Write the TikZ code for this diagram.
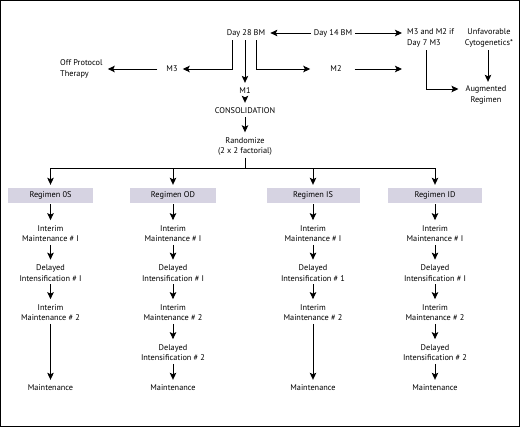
\documentclass[tikz,border=0pt]{standalone}
\usepackage{fontspec}
\setmainfont{PT Sans}
\usetikzlibrary{arrows.meta}

\definecolor{regimenfill}{RGB}{214,211,226}

\tikzset{
    flow/.style = {-{Stealth[length=7pt,width=6.5pt,inset=1.5pt]}, line width=0.9pt, shorten <=1pt, shorten >=3pt},
    lbl/.style = {align=center, font=\fontsize{8.3}{10.3}\selectfont, inner sep=2pt},
    regbox/.style = {lbl, fill=regimenfill, minimum height=15pt}
}

\begin{document}
\begin{tikzpicture}[x=1pt, y=-1pt]
        \useasboundingbox (0,0) rectangle (520,428);
        \draw [line width=1pt] (0.5,0.5) rectangle (519.5,426.5);

        % induction
        \node (dtwentyeight) at (246,33) [lbl] {Day 28 BM};
        \node (dfourteen) at (333,33) [lbl] {Day 14 BM};
        \node (mthreetwo) at (405,38) [lbl, anchor = west, align = left] {M3 and M2 if\\Day 7 M3};
        \node (unfav) at (489,38) [lbl] {Unfavorable\\Cytogenetics*};
        \node (augment) at (486,95) [lbl] {Augmented\\Regimen};
        \node (mthree) at (172,69) [lbl] {M3};
        \node (offprot) at (58,69) [lbl, anchor = west, align = left] {Off Protocol\\Therapy};
        \node (mone) at (245,91) [lbl] {M1};
        \node (mtwo) at (336,69) [lbl] {M2};
        \node (consol) at (245,111) [lbl] {CONSOLIDATION};
        \node (random) at (245,146.5) [lbl] {Randomize\\(2 x 2 factorial)};
        \coordinate (split) at (245,168);

        \draw [flow] (dfourteen.west) -- (dtwentyeight.east);
        \draw [flow] (dfourteen.east) -- (mthreetwo.west |- dfourteen);
        \draw [flow] ([xshift=-14pt]dtwentyeight.south) |- (mthree.east);
        \draw [flow] (dtwentyeight.south -| mone.north) -- (mone.north);
        \draw [flow, shorten >=18pt] ([xshift=10pt]dtwentyeight.south) |- (mtwo.west);
        \draw [flow, shorten <=7pt] (mthree.west) -- (offprot.east |- mthree);
        \draw [flow, shorten <=11pt] (mtwo.east) -- (mthreetwo.west |- mtwo);
        \draw [flow, shorten >=2pt] (unfav.south -| 488,0) -- (augment.north -| 488,0);
        \draw [flow, shorten >=5pt] ([xshift=21pt]mthreetwo.south west) |- ([yshift=6pt]augment.west);
        \draw [flow] (mone) -- (consol);
        \draw [flow] (consol) -- (random);

        % regimens
        \node (regos) at (50.5,195.5) [regbox, minimum width=85pt] {Regimen 0S};
        \node (regod) at (173,195.5) [regbox, minimum width=86pt] {Regimen OD};
        \node (regis) at (313,195.5) [regbox, minimum width=93pt] {Regimen IS};
        \node (regid) at (435,195.5) [regbox, minimum width=94pt] {Regimen ID};

        \draw [line width=0.9pt] (random) -- (split);
        \draw [line width=0.9pt] (regos.north |- split) -- (regid.north |- split);
        \foreach \reg in {regos, regod, regis, regid}
            \draw [flow, shorten <=0pt] (\reg.north |- split) -- (\reg.north);

        % column 0S
        \node (osimone) at (50.5,233.5) [lbl] {Interim\\Maintenance \# I};
        \node (osdione) at (50.5,273) [lbl] {Delayed\\Intensification \# I};
        \node (osimtwo) at (50.5,312.5) [lbl] {Interim\\Maintenance \# 2};
        \node (osmaint) at (50.5,388) [lbl] {Maintenance};
        \draw [flow] (regos) -- (osimone);
        \draw [flow] (osimone) -- (osdione);
        \draw [flow] (osdione) -- (osimtwo);
        \draw [flow] (osimtwo) -- (osmaint);

        % column OD
        \node (odimone) at (173,233.5) [lbl] {Interim\\Maintenance \# I};
        \node (oddione) at (173,273) [lbl] {Delayed\\Intensification \# I};
        \node (odimtwo) at (173,312.5) [lbl] {Interim\\Maintenance \# 2};
        \node (oddithree) at (173,352.5) [lbl] {Delayed\\Intensification \# 2};
        \node (odmaint) at (173,388) [lbl] {Maintenance};
        \draw [flow] (regod) -- (odimone);
        \draw [flow] (odimone) -- (oddione);
        \draw [flow] (oddione) -- (odimtwo);
        \draw [flow] (odimtwo) -- (oddithree);
        \draw [flow] (oddithree) -- (odmaint);

        % column IS
        \node (isimone) at (313,233.5) [lbl] {Interim\\Maintenance \# I};
        \node (isdione) at (313,273) [lbl] {Delayed\\Intensification \# 1};
        \node (isimtwo) at (313,312.5) [lbl] {Interim\\Maintenance \# 2};
        \node (ismaint) at (313,388) [lbl] {Maintenance};
        \draw [flow] (regis) -- (isimone);
        \draw [flow] (isimone) -- (isdione);
        \draw [flow] (isdione) -- (isimtwo);
        \draw [flow] (isimtwo) -- (ismaint);

        % column ID
        \node (idimone) at (435,233.5) [lbl] {Interim\\Maintenance \# I};
        \node (iddione) at (435,273) [lbl] {Delayed\\Intensification \# I};
        \node (idimtwo) at (435,312.5) [lbl] {Interim\\Maintenance \# 2};
        \node (iddithree) at (435,352.5) [lbl] {Delayed\\Intensification \# 2};
        \node (idmaint) at (435,388) [lbl] {Maintenance};
        \draw [flow] (regid) -- (idimone);
        \draw [flow] (idimone) -- (iddione);
        \draw [flow] (iddione) -- (idimtwo);
        \draw [flow] (idimtwo) -- (iddithree);
        \draw [flow] (iddithree) -- (idmaint);
    \end{tikzpicture}
\end{document}
